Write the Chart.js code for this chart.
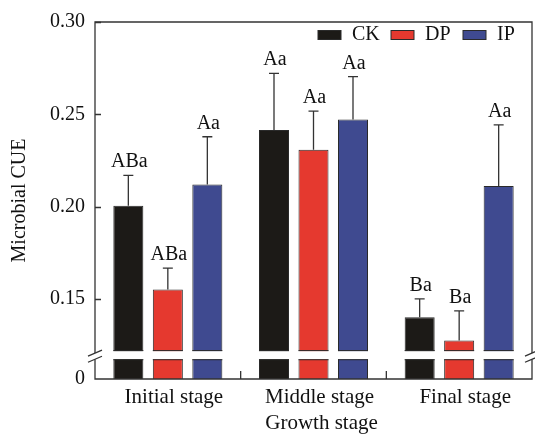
<!DOCTYPE html>
<html>
<head>
<meta charset="utf-8">
<script src="https://cdn.jsdelivr.net/npm/chart.js@4/dist/chart.umd.min.js"></script>
<style>
  html, body { margin: 0; padding: 0; background: #fff; }
  #wrap { width: 535px; height: 434px; }
</style>
</head>
<body>
<div id="wrap"><canvas id="c" width="535" height="434"></canvas></div>
<script>
// ---- data ----
const categories = ['Initial stage', 'Middle stage', 'Final stage'];
const seriesNames = ['CK', 'DP', 'IP'];
const ckValues = [0.2005, 0.2415, 0.1402];
const ckErrors = [0.0165, 0.0307, 0.0100];
const dpValues = [0.1553, 0.2308, 0.1277];
const dpErrors = [0.0115, 0.0210, 0.0160];
const ipValues = [0.2121, 0.2472, 0.2113];
const ipErrors = [0.0258, 0.0232, 0.0330];
const ckLetters = ['ABa', 'Aa', 'Ba'];
const dpLetters = ['ABa', 'Aa', 'Ba'];
const ipLetters = ['Aa', 'Aa', 'Aa'];
const yTickValues = [0.15, 0.20, 0.25, 0.30];
const yTitle = 'Microbial CUE';
const xTitle = 'Growth stage';

// ---- broken-axis layout (display units of the value axis) ----
const AXIS_ZERO = 0.1068;   // where "0" sits on the broken axis
const BREAK_LOW = 0.1175;   // top of the lower stub
const BREAK_HIGH = 0.1219;  // bottom of the upper segment
const AXIS_MAX = 0.30;

const colors = ['#1c1a17', '#e5392f', '#3f4a90'];
const FONT = '"Liberation Serif", "Times New Roman", serif';

const valueSets = [ckValues, dpValues, ipValues];
const errorSets = [ckErrors, dpErrors, ipErrors];
const letterSets = [ckLetters, dpLetters, ipLetters];

const datasets = seriesNames.map((name, i) => ({
  label: name,
  data: valueSets[i],
  backgroundColor: colors[i],
  borderColor: '#2a2a2a',
  borderWidth: 1,
  barPercentage: 0.76,
  categoryPercentage: 0.8135
}));

const breakPlugin = {
  id: 'brokenAxis',
  beforeDraw(chart) {
    const ctx = chart.ctx;
    ctx.save();
    ctx.fillStyle = '#fff';
    ctx.fillRect(0, 0, chart.width, chart.height);
    ctx.restore();
  },
  afterDraw(chart) {
    const ctx = chart.ctx;
    const area = chart.chartArea;
    const y = chart.scales.y;
    const x = chart.scales.x;
    const gTop = y.getPixelForValue(BREAK_HIGH);
    const gBot = y.getPixelForValue(BREAK_LOW);
    ctx.save();
    // white gap through the bars
    ctx.fillStyle = '#fff';
    ctx.fillRect(area.left, gTop, area.right - area.left, gBot - gTop);
    // cut edges of bars
    ctx.strokeStyle = '#2a2a2a';
    ctx.lineWidth = 1;
    chart.data.datasets.forEach((ds, di) => {
      chart.getDatasetMeta(di).data.forEach(bar => {
        const l = bar.x - bar.width / 2, r = bar.x + bar.width / 2;
        ctx.beginPath();
        ctx.moveTo(l, gTop - 0.5); ctx.lineTo(r, gTop - 0.5);
        ctx.moveTo(l, gBot + 0.5); ctx.lineTo(r, gBot + 0.5);
        ctx.stroke();
      });
    });
    // frame with breaks
    ctx.strokeStyle = '#333';
    ctx.lineWidth = 1.3;
    const L = area.left, R = area.right, T = area.top, B = area.bottom;
    const fTop = gTop + 2, fBot = gBot;
    ctx.beginPath();
    ctx.moveTo(L, fTop); ctx.lineTo(L, T); ctx.lineTo(R, T); ctx.lineTo(R, fTop);
    ctx.moveTo(L, fBot); ctx.lineTo(L, B); ctx.lineTo(R, B); ctx.lineTo(R, fBot);
    ctx.stroke();
    // break slashes
    [L, R].forEach(px => {
      ctx.beginPath();
      ctx.moveTo(px - 7, fTop + 3); ctx.lineTo(px + 7, fTop - 3);
      ctx.moveTo(px - 7, fBot + 3); ctx.lineTo(px + 7, fBot - 3);
      ctx.stroke();
    });
    // inward y ticks
    ctx.beginPath();
    yTickValues.forEach(v => {
      const py = Math.round(y.getPixelForValue(v)) + 0.5;
      ctx.moveTo(L, py); ctx.lineTo(L + 6, py);
    });
    // inward x ticks at category boundaries
    for (let i = 1; i < categories.length; i++) {
      const px = (x.getPixelForValue(i - 1) + x.getPixelForValue(i)) / 2;
      ctx.moveTo(px, B); ctx.lineTo(px, B - 8);
    }
    ctx.stroke();
    // error bars and letters
    ctx.strokeStyle = '#333';
    ctx.lineWidth = 1.3;
    ctx.fillStyle = '#111';
    ctx.font = '20px ' + FONT;
    ctx.textAlign = 'center';
    ctx.textBaseline = 'alphabetic';
    chart.data.datasets.forEach((ds, di) => {
      chart.getDatasetMeta(di).data.forEach((bar, j) => {
        const v = valueSets[di][j];
        const e = errorSets[di][j];
        const top = y.getPixelForValue(v);
        const cap = y.getPixelForValue(v + e);
        ctx.beginPath();
        ctx.moveTo(bar.x, top); ctx.lineTo(bar.x, cap);
        ctx.moveTo(bar.x - 5, cap); ctx.lineTo(bar.x + 5, cap);
        ctx.stroke();
        ctx.fillText(letterSets[di][j], bar.x + 1, cap - 8);
      });
    });
    // legend
    const legendX = [318, 391, 463];
    ctx.textAlign = 'left';
    ctx.textBaseline = 'middle';
    seriesNames.forEach((name, i) => {
      ctx.fillStyle = colors[i];
      ctx.fillRect(legendX[i], 30.5, 23, 9);
      ctx.strokeStyle = '#2a2a2a';
      ctx.lineWidth = 1;
      ctx.strokeRect(legendX[i], 30.5, 23, 9);
      ctx.fillStyle = '#111';
      ctx.fillText(name, legendX[i] + 34, 34.5);
    });
    // x title
    ctx.textAlign = 'center';
    ctx.font = '21px ' + FONT;
    ctx.fillText(xTitle, (L + R) / 2 + 8, 423);
    ctx.restore();
  }
};

new Chart(document.getElementById('c'), {
  type: 'bar',
  data: { labels: categories, datasets },
  options: {
    responsive: false,
    animation: false,
    devicePixelRatio: 1,
    layout: { padding: { top: 17, right: 3, left: 0, bottom: 0 } },
    plugins: { legend: { display: false }, tooltip: { enabled: false } },
    scales: {
      x: {
        grid: { display: false, drawTicks: false },
        border: { display: false },
        ticks: { font: { family: FONT, size: 21 }, color: '#111', padding: 6, labelOffset: 6, maxRotation: 0 },
        afterFit(s) { s.height = 55; }
      },
      y: {
        min: AXIS_ZERO,
        max: AXIS_MAX,
        grid: { display: false, drawTicks: false },
        border: { display: false },
        afterBuildTicks(s) {
          s.ticks = [AXIS_ZERO, ...yTickValues].map(v => ({ value: v }));
        },
        ticks: {
          font: { family: FONT, size: 20 },
          color: '#111',
          padding: 10,
          callback: (v, i) => (i === 0 ? '0' : Number(v).toFixed(2))
        },
        title: {
          display: true,
          text: yTitle,
          font: { family: FONT, size: 20 },
          color: '#111',
          padding: { top: 8, bottom: 0 }
        },
        afterFit(s) { s.width = 95; }
      }
    }
  },
  plugins: [breakPlugin]
});
</script>
</body>
</html>
